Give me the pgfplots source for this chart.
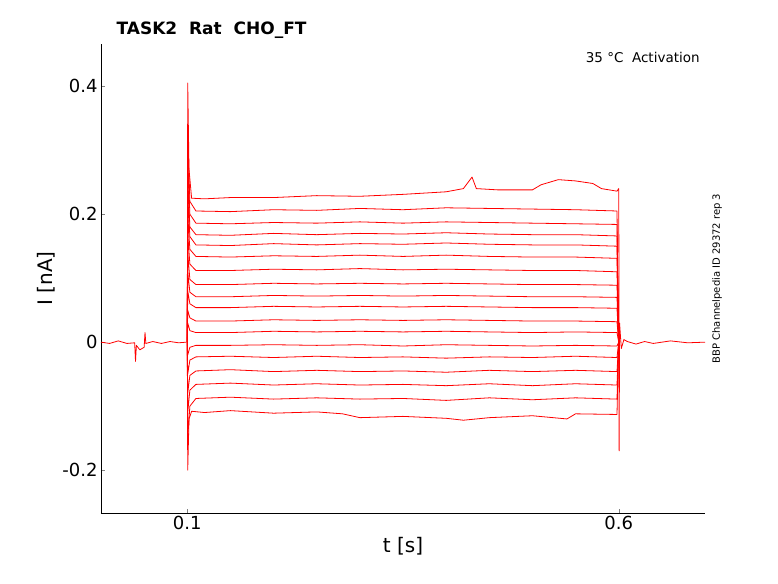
\documentclass[border=0pt]{standalone}
\usepackage{pgfplots}
\pgfplotsset{compat=1.18}
\usepackage{fontspec}
\setmainfont{DejaVu Sans}
\pgfplotscreateplotcyclelist{redlist}{{red,no markers,solid,line width=0.8pt,line join=round}\\}
\begin{document}
\begin{tikzpicture}
\useasboundingbox (-101pt,-70pt) rectangle (677pt,513pt);
\begin{axis}[at={(0,0)},anchor=south west,scale only axis,width=604pt,height=469pt,
 xmin=0,xmax=0.7,ymin=-0.267,ymax=0.466,
 axis x line*=bottom, axis y line*=left,
 xtick={0.1,0.6}, ytick={-0.2,0,0.2,0.4},
 yticklabels={-0.2,0,0.2,0.4}, xticklabels={0.1,0.6},
 tick label style={font=\fontsize{18}{21}\selectfont},
 xlabel={t [s]}, ylabel={I [nA]},
 label style={font=\fontsize{20}{23}\selectfont},
 /pgf/number format/assume math mode=true,
 tick align=inside, major tick length=4pt,
 clip=false,
 cycle list name=redlist]
% baseline
\addplot coordinates {(0,0.000)(0.01,-0.002)(0.02,0.002)(0.03,-0.002)(0.039,-0.001)(0.040,-0.030)(0.041,-0.005)(0.045,-0.012)(0.050,-0.008)(0.051,0.015)(0.052,-0.002)(0.06,0.001)(0.07,-0.002)(0.08,0.001)(0.09,-0.001)(0.099,0.000)};
\addplot coordinates {(0.6,0.0)(0.6005,-0.17)(0.601,0.03)(0.603,-0.01)(0.606,0.004)(0.61,0.001)(0.62,-0.003)(0.63,0.001)(0.64,-0.002)(0.66,0.002)(0.68,-0.001)(0.7,0.0)};
% steps
\addplot coordinates {(0.1,0)(0.1005,0.405)(0.102,0.27)(0.105,0.225)(0.12,0.224)(0.15,0.226)(0.2,0.226)(0.25,0.229)(0.3,0.228)(0.35,0.231)(0.4,0.235)(0.42,0.24)(0.43,0.258)(0.435,0.24)(0.46,0.238)(0.5,0.238)(0.51,0.246)(0.53,0.254)(0.55,0.252)(0.57,0.248)(0.58,0.24)(0.598,0.236)(0.6,0.24)(0.6005,0)};
\addplot coordinates {(0.1,0)(0.1005,0.33)(0.103,0.22)(0.11,0.205)(0.15,0.204)(0.2,0.207)(0.25,0.206)(0.3,0.209)(0.35,0.207)(0.4,0.210)(0.45,0.209)(0.5,0.208)(0.55,0.207)(0.598,0.205)(0.6,0)};
\addplot coordinates {(0.1,0)(0.1005,0.29)(0.103,0.20)(0.11,0.186)(0.15,0.185)(0.2,0.187)(0.25,0.186)(0.3,0.188)(0.35,0.186)(0.4,0.188)(0.45,0.187)(0.5,0.186)(0.55,0.185)(0.598,0.184)(0.6,0)};
\addplot coordinates {(0.1,0)(0.1005,0.26)(0.103,0.18)(0.11,0.168)(0.15,0.167)(0.2,0.170)(0.25,0.168)(0.3,0.170)(0.35,0.169)(0.4,0.171)(0.45,0.169)(0.5,0.168)(0.55,0.168)(0.598,0.166)(0.6,0)};
\addplot coordinates {(0.1,0)(0.1005,0.23)(0.103,0.165)(0.11,0.152)(0.15,0.151)(0.2,0.154)(0.25,0.152)(0.3,0.154)(0.35,0.153)(0.4,0.155)(0.45,0.153)(0.5,0.152)(0.55,0.152)(0.598,0.150)(0.6,0)};
\addplot coordinates {(0.1,0)(0.1005,0.20)(0.103,0.145)(0.11,0.134)(0.15,0.133)(0.2,0.135)(0.25,0.134)(0.3,0.136)(0.35,0.134)(0.4,0.136)(0.45,0.134)(0.5,0.133)(0.55,0.133)(0.598,0.131)(0.6,0)};
\addplot coordinates {(0.1,0)(0.1005,0.17)(0.103,0.122)(0.11,0.112)(0.15,0.112)(0.2,0.114)(0.25,0.113)(0.3,0.115)(0.35,0.113)(0.4,0.114)(0.45,0.113)(0.5,0.112)(0.55,0.112)(0.598,0.110)(0.6,0)};
\addplot coordinates {(0.1,0)(0.1005,0.14)(0.103,0.098)(0.11,0.090)(0.15,0.090)(0.2,0.092)(0.25,0.091)(0.3,0.092)(0.35,0.091)(0.4,0.092)(0.45,0.091)(0.5,0.090)(0.55,0.090)(0.598,0.089)(0.6,0)};
\addplot coordinates {(0.1,0)(0.1005,0.11)(0.103,0.078)(0.11,0.071)(0.15,0.071)(0.2,0.073)(0.25,0.072)(0.3,0.073)(0.35,0.072)(0.4,0.073)(0.45,0.072)(0.5,0.071)(0.55,0.071)(0.598,0.070)(0.6,0)};
\addplot coordinates {(0.1,0)(0.1005,0.08)(0.103,0.060)(0.11,0.054)(0.15,0.054)(0.2,0.056)(0.25,0.055)(0.3,0.056)(0.35,0.055)(0.4,0.056)(0.45,0.055)(0.5,0.054)(0.55,0.054)(0.598,0.053)(0.6,0)};
\addplot coordinates {(0.1,0)(0.1005,0.05)(0.103,0.038)(0.11,0.033)(0.15,0.033)(0.2,0.035)(0.25,0.034)(0.3,0.035)(0.35,0.034)(0.4,0.035)(0.45,0.034)(0.5,0.033)(0.55,0.033)(0.598,0.032)(0.6,0)};
\addplot coordinates {(0.1,0)(0.1005,0.03)(0.103,0.018)(0.11,0.015)(0.15,0.015)(0.2,0.017)(0.25,0.016)(0.3,0.017)(0.35,0.016)(0.4,0.017)(0.45,0.016)(0.5,0.015)(0.55,0.016)(0.598,0.015)(0.6,0)};
\addplot coordinates {(0.1,0)(0.1005,-0.02)(0.103,-0.008)(0.11,-0.005)(0.15,-0.005)(0.2,-0.004)(0.25,-0.005)(0.3,-0.004)(0.35,-0.006)(0.4,-0.004)(0.45,-0.005)(0.5,-0.006)(0.55,-0.005)(0.598,-0.006)(0.6,0)};
\addplot coordinates {(0.1,0)(0.1005,-0.05)(0.103,-0.028)(0.11,-0.023)(0.15,-0.022)(0.2,-0.024)(0.25,-0.022)(0.3,-0.024)(0.35,-0.023)(0.4,-0.025)(0.45,-0.023)(0.5,-0.024)(0.55,-0.022)(0.598,-0.024)(0.6,0)};
\addplot coordinates {(0.1,0)(0.1005,-0.08)(0.103,-0.052)(0.11,-0.045)(0.15,-0.043)(0.2,-0.046)(0.25,-0.044)(0.3,-0.046)(0.35,-0.045)(0.4,-0.047)(0.45,-0.044)(0.5,-0.046)(0.55,-0.044)(0.598,-0.046)(0.6,0)};
\addplot coordinates {(0.1,0)(0.1005,-0.11)(0.103,-0.075)(0.11,-0.066)(0.15,-0.064)(0.2,-0.067)(0.25,-0.065)(0.3,-0.067)(0.35,-0.066)(0.4,-0.068)(0.45,-0.065)(0.5,-0.068)(0.55,-0.065)(0.598,-0.067)(0.6,0)};
\addplot coordinates {(0.1,0)(0.1005,-0.15)(0.103,-0.10)(0.11,-0.088)(0.15,-0.086)(0.2,-0.089)(0.25,-0.087)(0.3,-0.089)(0.35,-0.088)(0.4,-0.091)(0.45,-0.087)(0.5,-0.090)(0.55,-0.087)(0.598,-0.089)(0.6,0)};
\addplot coordinates {(0.1,0)(0.1005,-0.20)(0.102,-0.12)(0.105,-0.108)(0.12,-0.110)(0.15,-0.107)(0.2,-0.111)(0.25,-0.109)(0.28,-0.112)(0.3,-0.118)(0.35,-0.116)(0.4,-0.119)(0.42,-0.122)(0.45,-0.118)(0.5,-0.115)(0.54,-0.120)(0.55,-0.112)(0.598,-0.113)(0.6,0)};
\node[anchor=south west,font=\bfseries\fontsize{17}{20}\selectfont] at (rel axis cs:0.02,1.005) {TASK2\ \ Rat\ \ CHO\_FT};
\node[anchor=north east,font=\fontsize{13.5}{16}\selectfont] at (rel axis cs:0.997,0.99) {35 °C\ \ Activation};
\node[rotate=90,font=\fontsize{10}{12}\selectfont] at (rel axis cs:1.02,0.5) {BBP Channelpedia ID 29372 rep 3};
\end{axis}
\end{tikzpicture}
\end{document}
